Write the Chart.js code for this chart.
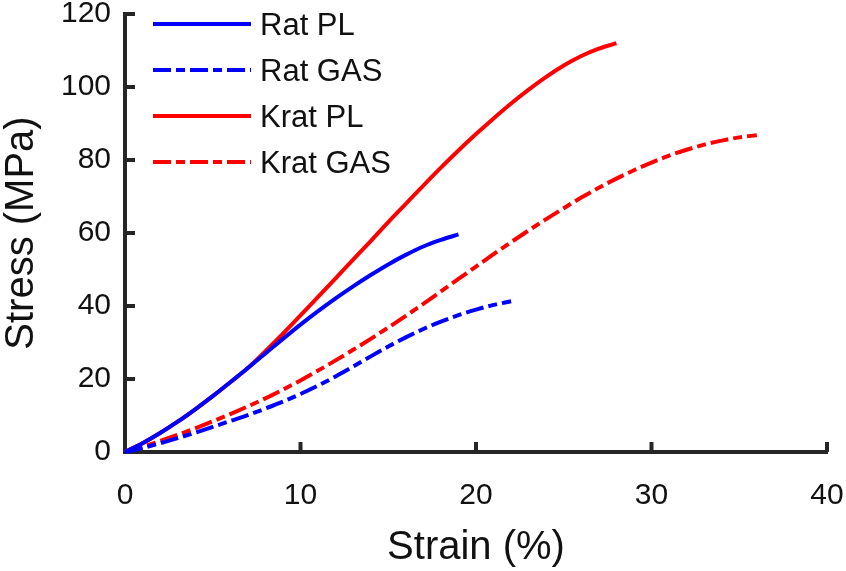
<!DOCTYPE html>
<html><head><meta charset="utf-8">
<script src="https://cdn.jsdelivr.net/npm/chart.js@4/dist/chart.umd.min.js"></script>
<style>html,body{margin:0;padding:0;background:#fff}#wrap{width:846px;height:571px}</style>
</head><body><div id="wrap"><canvas id="c" width="846" height="571"></canvas></div>
<script>
const seriesNames = ['Rat PL', 'Rat GAS', 'Krat PL', 'Krat GAS'];
const ratPLStrain = [0,1,2,3,4,5,6,7,8,9,10,11,12,13,14,15,16,17,18,19];
const ratPLStress = [0,2.4,5.2,8.3,11.7,15.3,19.1,23.0,27.0,31.0,34.9,38.6,42.1,45.4,48.5,51.4,54.0,56.3,58.1,59.6];
const ratGASStrain = [0,1,2,3,4,5,6,7,8,9,10,11,12,13,14,15,16,17,18,19,20,21,22];
const ratGASStress = [0,1.1,2.4,3.8,5.3,6.9,8.5,10.1,11.9,13.8,15.9,18.2,20.7,23.4,26.2,28.9,31.4,33.7,35.7,37.5,39.0,40.3,41.3];
const kratPLStrain = [0,1,2,3,4,5,6,7,8,9,10,11,12,13,14,15,16,17,18,19,20,21,22,23,24,25,26,27,28];
const kratPLStress = [0,2.4,5.2,8.3,11.7,15.3,19.1,23.0,27.6,32.4,37.4,42.5,47.6,52.7,57.8,63,68,73,77.9,82.6,87.1,91.4,95.5,99.3,102.8,105.9,108.5,110.5,112];
const kratGASStrain = [0,1,2,3,4,5,6,7,8,9,10,11,12,13,14,15,16,17,18,19,20,21,22,23,24,25,26,27,28,29,30,31,32,33,34,35,36];
const kratGASStress = [0,1.4,3.0,4.7,6.5,8.4,10.4,12.5,14.7,17.1,19.6,22.3,25.1,28.0,31.0,34.1,37.3,40.6,44.0,47.4,50.8,54.2,57.5,60.7,63.8,66.8,69.7,72.4,74.9,77.2,79.3,81.2,82.8,84.2,85.3,86.2,86.8];
const xTicks = [0,10,20,30,40];
const yTicks = [0,20,40,60,80,100,120];

const BLUE = '#0000ff', RED = '#ff0000', AX = '#262626';
const DASHDOT = [18,5,9,5];
const FONT = '"Liberation Sans", Arial, sans-serif';
const toPts = (xs, ys) => xs.map((x, i) => ({x, y: ys[i]}));

function ds(label, xs, ys, color, dash) {
  return {label, data: toPts(xs, ys), borderColor: color, backgroundColor: color,
    borderWidth: 4, borderDash: dash, pointRadius: 0, fill: false,
    cubicInterpolationMode: 'monotone', clip: false, borderCapStyle: 'butt'};
}

const tickPlugin = {
  id: 'inTicks',
  afterDraw(chart) {
    const ctx = chart.ctx, xs = chart.scales.x, ys = chart.scales.y;
    const ca = chart.chartArea;
    ctx.save();
    ctx.strokeStyle = AX; ctx.lineWidth = 4; ctx.lineCap = 'butt';
    xTicks.forEach(v => {
      if (v === 0) return;
      const px = xs.getPixelForValue(v);
      ctx.beginPath(); ctx.moveTo(px, ca.bottom); ctx.lineTo(px, ca.bottom - 10); ctx.stroke();
    });
    yTicks.forEach(v => {
      if (v === 0) return;
      const py = ys.getPixelForValue(v);
      ctx.beginPath(); ctx.moveTo(ca.left, py); ctx.lineTo(ca.left + 10, py); ctx.stroke();
    });
    ctx.font = '31px ' + FONT;
    ctx.textBaseline = 'middle'; ctx.textAlign = 'left';
    const rows = [24, 70, 116, 162];
    chart.data.datasets.forEach((d, i) => {
      const y = rows[i];
      ctx.strokeStyle = d.borderColor; ctx.lineWidth = 4;
      ctx.setLineDash(d.borderDash || []);
      ctx.beginPath(); ctx.moveTo(153, y); ctx.lineTo(251, y); ctx.stroke();
      ctx.setLineDash([]);
      ctx.fillStyle = '#111';
      ctx.fillText(d.label, 260, y + 2);
    });
    ctx.restore();
  }
};

new Chart(document.getElementById('c'), {
  type: 'line',
  data: { datasets: [
    ds(seriesNames[0], ratPLStrain, ratPLStress, BLUE, []),
    ds(seriesNames[1], ratGASStrain, ratGASStress, BLUE, DASHDOT),
    ds(seriesNames[2], kratPLStrain, kratPLStress, RED, []),
    ds(seriesNames[3], kratGASStrain, kratGASStress, RED, DASHDOT)
  ]},
  options: {
    responsive: false, animation: false, devicePixelRatio: 1,
    layout: {padding: {left: 0, top: 14, right: 19, bottom: 0}},
    plugins: {legend: {display: false}, tooltip: {enabled: false}},
    scales: {
      x: {type: 'linear', min: 0, max: 40,
        afterBuildTicks: s => { s.ticks = xTicks.map(v => ({value: v})); },
        afterFit: s => { s.height = 119; s.paddingLeft = 0; s.paddingRight = 0; },
        grid: {display: false, drawTicks: false},
        border: {display: true, color: AX, width: 4},
        ticks: {color: '#111', font: {family: FONT, size: 30}, padding: 26, maxRotation: 0},
        title: {display: true, text: 'Strain (%)', color: '#111',
          font: {family: FONT, size: 40, lineHeight: 1}, padding: {top: 0, bottom: 3}}
      },
      y: {type: 'linear', min: 0, max: 120,
        afterBuildTicks: s => { s.ticks = yTicks.map(v => ({value: v})); },
        afterFit: s => { s.width = 125; s.paddingTop = 0; s.paddingBottom = 0; },
        grid: {display: false, drawTicks: false},
        border: {display: true, color: AX, width: 4},
        ticks: {color: '#111', font: {family: FONT, size: 30}, padding: 14},
        title: {display: true, text: 'Stress (MPa)', color: '#111',
          font: {family: FONT, size: 40, lineHeight: 1}, padding: {top: 2, bottom: 0}}
      }
    }
  },
  plugins: [tickPlugin]
});
</script></body></html>
